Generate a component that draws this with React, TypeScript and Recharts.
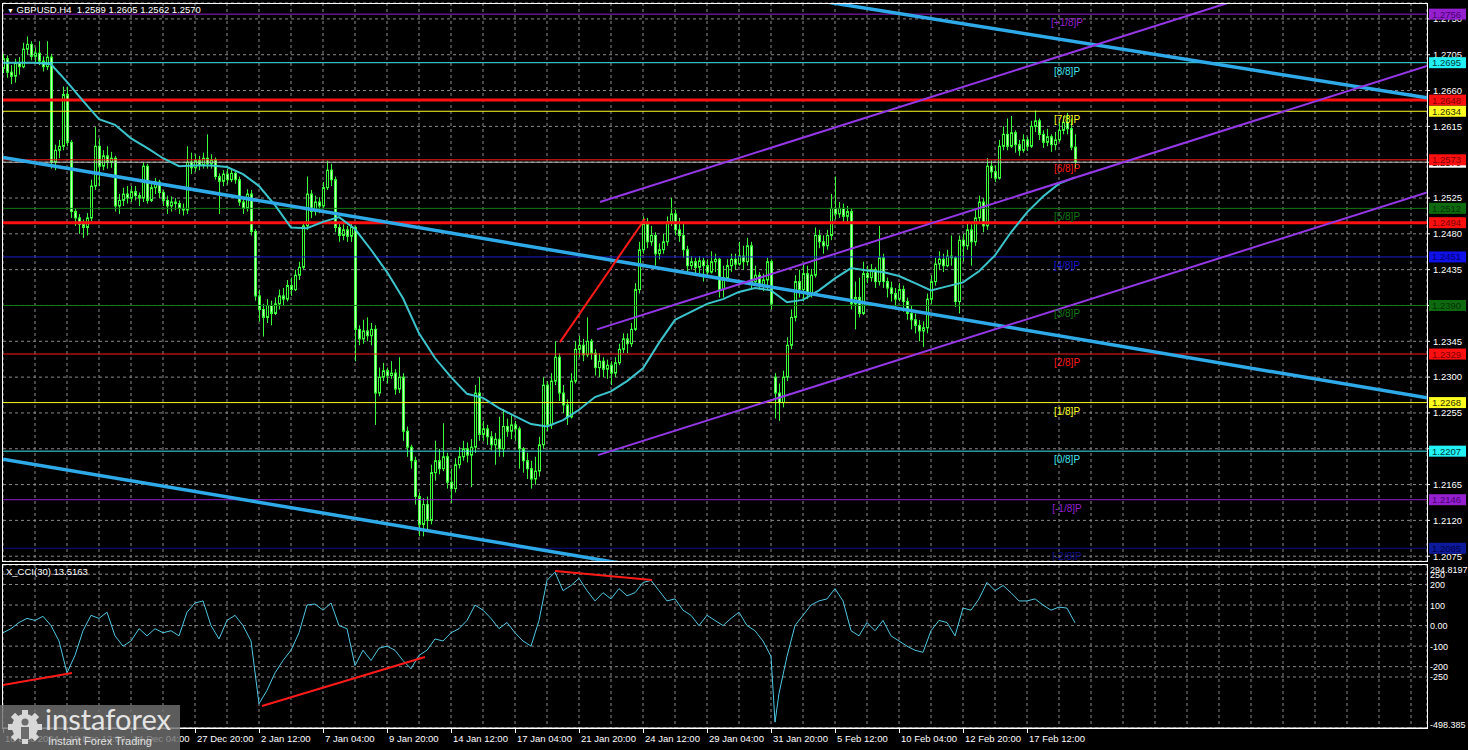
import React from 'react';
import {
  ComposedChart,
  LineChart,
  Bar,
  Line,
  XAxis,
  YAxis,
  CartesianGrid,
  ReferenceLine,
} from 'recharts';

const FONT = '"Liberation Sans", Arial, sans-serif';
const GRID = '#8a8a8a';
const CANDLE = '#3cff3c';
const BEAR_FILL = '#c4ffbc';

// GBPUSD H4, one entry per bar starting 16 Dec 2024 20:00
const FIRST_OPEN = 1.2688;
// weekend gap opens (bar index -> open)
const GAP_OPEN: Record<number, number> = { 193: 1.23 };

const CLOSE = [
  1.2700, 1.2683, 1.2678, 1.2695, 1.2690, 1.2712, 1.2718, 1.2703, 1.2707, 1.2697,
  1.2690, 1.2702, 1.2570, 1.2585, 1.2590, 1.2655, 1.2595, 1.2508, 1.2500, 1.2492,
  1.2488, 1.2500, 1.2540, 1.2590, 1.2565, 1.2578, 1.2570, 1.2575, 1.2515, 1.2522,
  1.2530, 1.2525, 1.2533, 1.2528, 1.2525, 1.2565, 1.2522, 1.2538, 1.2545, 1.2532,
  1.2522, 1.2515, 1.2520, 1.2518, 1.2512, 1.2510, 1.2570, 1.2563, 1.2572, 1.2566,
  1.2575, 1.2568, 1.2573, 1.2552, 1.2546, 1.2555, 1.2548, 1.2556, 1.2548, 1.2520,
  1.2512, 1.2530, 1.2483, 1.2402, 1.2385, 1.2375, 1.2390, 1.2380, 1.2392, 1.2402,
  1.2398, 1.2415, 1.2410, 1.2428, 1.2438, 1.2490, 1.2530, 1.2508, 1.2520, 1.2515,
  1.2538, 1.2560, 1.2548, 1.2488, 1.2478, 1.2485, 1.2477, 1.2488, 1.2360, 1.2348,
  1.2358, 1.2352, 1.2360, 1.2280, 1.2300, 1.2308, 1.2302, 1.2305, 1.2285, 1.2300,
  1.2232, 1.2212, 1.2195, 1.2150, 1.2115, 1.2140, 1.2120, 1.2180, 1.2195, 1.2185,
  1.2200, 1.2168, 1.2160, 1.2190, 1.2200, 1.2210, 1.2202, 1.2212, 1.2280, 1.2228,
  1.2235, 1.2225, 1.2215, 1.2222, 1.2210, 1.2238, 1.2232, 1.2240, 1.2235, 1.2210,
  1.2195, 1.2185, 1.2172, 1.2182, 1.2215, 1.2290, 1.2240, 1.2295, 1.2325, 1.2280,
  1.2265, 1.2250, 1.2295, 1.2335, 1.2340, 1.2328, 1.2345, 1.2330, 1.2312, 1.2320,
  1.2310, 1.2315, 1.2305, 1.2318, 1.2335, 1.2348, 1.2342, 1.2360, 1.2410, 1.2460,
  1.2492, 1.2470, 1.2478, 1.2455, 1.2460, 1.2470, 1.2495, 1.2505, 1.2485, 1.2478,
  1.2460, 1.2440, 1.2445, 1.2438, 1.2446, 1.2440, 1.2432, 1.2445, 1.2448, 1.2410,
  1.2425, 1.2440, 1.2448, 1.2442, 1.2452, 1.2445, 1.2465, 1.2420, 1.2428, 1.2415,
  1.2422, 1.2445, 1.2392, 1.2280, 1.2268, 1.2300, 1.2340, 1.2375, 1.2420, 1.2410,
  1.2430, 1.2405, 1.2428, 1.2478, 1.2470, 1.2465, 1.2478, 1.2512, 1.2505, 1.2512,
  1.2502, 1.2508, 1.2392, 1.2400, 1.2380, 1.2430, 1.2425, 1.2435, 1.2420, 1.2450,
  1.2420, 1.2412, 1.2405, 1.2398, 1.2410, 1.2395, 1.2380, 1.2372, 1.2365, 1.2358,
  1.2362, 1.2398, 1.2420, 1.2442, 1.2448, 1.2440, 1.2452, 1.2450, 1.2395, 1.2472,
  1.2465, 1.2485, 1.2470, 1.2500, 1.2520, 1.2490, 1.2565, 1.2558, 1.2550, 1.2590,
  1.2605, 1.2590, 1.2607, 1.2592, 1.2585, 1.2598, 1.2590, 1.2615, 1.2622, 1.2605,
  1.2595, 1.2602, 1.2592, 1.2598, 1.2610, 1.2620, 1.2612, 1.2589, 1.2570,
];

const HIGH = [
  1.2706, 1.2704, 1.2692, 1.2700, 1.2702, 1.2720, 1.2728, 1.2722, 1.2714, 1.2722,
  1.2703, 1.2722, 1.2706, 1.2592, 1.2598, 1.2665, 1.2665, 1.2598, 1.2512, 1.2505,
  1.2498, 1.2506, 1.2548, 1.2614, 1.2600, 1.2585, 1.2590, 1.2583, 1.2578, 1.2530,
  1.2538, 1.2540, 1.2540, 1.2540, 1.2532, 1.2570, 1.2568, 1.2545, 1.2550, 1.2548,
  1.2535, 1.2528, 1.2527, 1.2525, 1.2522, 1.2518, 1.2590, 1.2582, 1.2580, 1.2578,
  1.2582, 1.2605, 1.2580, 1.2576, 1.2556, 1.2560, 1.2562, 1.2562, 1.2560, 1.2552,
  1.2525, 1.2536, 1.2535, 1.2486, 1.2410, 1.2392, 1.2398, 1.2396, 1.2400, 1.2410,
  1.2412, 1.2422, 1.2425, 1.2435, 1.2445, 1.2495, 1.2552, 1.2535, 1.2528, 1.2526,
  1.2545, 1.2572, 1.2568, 1.2552, 1.2495, 1.2492, 1.2490, 1.2495, 1.2490, 1.2365,
  1.2372, 1.2375, 1.2368, 1.2365, 1.2312, 1.2318, 1.2312, 1.2320, 1.2310, 1.2325,
  1.2305, 1.2238, 1.2215, 1.2200, 1.2155, 1.2148, 1.2150, 1.2190, 1.2220, 1.2210,
  1.2242, 1.2205, 1.2185, 1.2198, 1.2212, 1.2220, 1.2218, 1.2222, 1.2290, 1.2300,
  1.2245, 1.2240, 1.2232, 1.2230, 1.2250, 1.2260, 1.2248, 1.2252, 1.2245, 1.2238,
  1.2212, 1.2205, 1.2195, 1.2200, 1.2225, 1.2300, 1.2295, 1.2305, 1.2345, 1.2330,
  1.2290, 1.2272, 1.2305, 1.2345, 1.2352, 1.2348, 1.2375, 1.2348, 1.2335, 1.2330,
  1.2325, 1.2322, 1.2320, 1.2325, 1.2342, 1.2355, 1.2355, 1.2368, 1.2418, 1.2470,
  1.2502, 1.2500, 1.2490, 1.2482, 1.2468, 1.2480, 1.2502, 1.2525, 1.2510, 1.2500,
  1.2495, 1.2465, 1.2452, 1.2450, 1.2452, 1.2450, 1.2448, 1.2458, 1.2455, 1.2450,
  1.2440, 1.2448, 1.2455, 1.2455, 1.2470, 1.2465, 1.2475, 1.2470, 1.2440, 1.2432,
  1.2430, 1.2450, 1.2448, 1.2305, 1.2292, 1.2308, 1.2350, 1.2385, 1.2428, 1.2435,
  1.2442, 1.2440, 1.2436, 1.2488, 1.2485, 1.2478, 1.2485, 1.2530, 1.2552, 1.2520,
  1.2518, 1.2515, 1.2512, 1.2420, 1.2425, 1.2445, 1.2440, 1.2442, 1.2438, 1.2490,
  1.2455, 1.2425, 1.2420, 1.2412, 1.2418, 1.2415, 1.2400, 1.2390, 1.2380, 1.2372,
  1.2370, 1.2405, 1.2428, 1.2450, 1.2458, 1.2455, 1.2460, 1.2478, 1.2452, 1.2478,
  1.2480, 1.2495, 1.2492, 1.2510, 1.2528, 1.2525, 1.2575, 1.2572, 1.2566, 1.2598,
  1.2615, 1.2625, 1.2628, 1.2610, 1.2598, 1.2605, 1.2602, 1.2622, 1.2635, 1.2625,
  1.2610, 1.2612, 1.2605, 1.2608, 1.2620, 1.2628, 1.2632, 1.2625, 1.2605,
];

const LOW = [
  1.2682, 1.2676, 1.2668, 1.2670, 1.2680, 1.2688, 1.2705, 1.2698, 1.2696, 1.2692,
  1.2684, 1.2686, 1.2562, 1.2560, 1.2575, 1.2585, 1.2590, 1.2500, 1.2490, 1.2480,
  1.2475, 1.2478, 1.2496, 1.2535, 1.2540, 1.2560, 1.2562, 1.2563, 1.2508, 1.2505,
  1.2515, 1.2518, 1.2520, 1.2522, 1.2515, 1.2520, 1.2518, 1.2520, 1.2530, 1.2525,
  1.2515, 1.2505, 1.2508, 1.2510, 1.2505, 1.2503, 1.2505, 1.2555, 1.2558, 1.2560,
  1.2562, 1.2562, 1.2562, 1.2548, 1.2505, 1.2540, 1.2542, 1.2545, 1.2543, 1.2515,
  1.2505, 1.2508, 1.2478, 1.2396, 1.2370, 1.2351, 1.2368, 1.2365, 1.2378, 1.2385,
  1.2390, 1.2395, 1.2402, 1.2408, 1.2422, 1.2435, 1.2485, 1.2500, 1.2503, 1.2506,
  1.2512, 1.2535, 1.2540, 1.2482, 1.2470, 1.2472, 1.2470, 1.2470, 1.2320, 1.2340,
  1.2342, 1.2345, 1.2340, 1.2240, 1.2276, 1.2295, 1.2292, 1.2298, 1.2278, 1.2280,
  1.2220, 1.2200, 1.2185, 1.2140, 1.2100, 1.2100, 1.2108, 1.2115, 1.2170, 1.2178,
  1.2182, 1.2160, 1.2142, 1.2155, 1.2185, 1.2195, 1.2193, 1.2162, 1.2205, 1.2220,
  1.2220, 1.2215, 1.2208, 1.2190, 1.2200, 1.2200, 1.2225, 1.2222, 1.2220, 1.2185,
  1.2180, 1.2172, 1.2160, 1.2165, 1.2175, 1.2210, 1.2232, 1.2235, 1.2290, 1.2270,
  1.2255, 1.2240, 1.2248, 1.2292, 1.2325, 1.2320, 1.2325, 1.2322, 1.2302, 1.2300,
  1.2300, 1.2298, 1.2290, 1.2300, 1.2315, 1.2330, 1.2330, 1.2338, 1.2358, 1.2405,
  1.2455, 1.2462, 1.2465, 1.2440, 1.2448, 1.2455, 1.2465, 1.2490, 1.2478, 1.2470,
  1.2450, 1.2432, 1.2435, 1.2428, 1.2430, 1.2420, 1.2425, 1.2430, 1.2432, 1.2400,
  1.2400, 1.2420, 1.2432, 1.2435, 1.2440, 1.2435, 1.2440, 1.2410, 1.2415, 1.2410,
  1.2408, 1.2410, 1.2385, 1.2248, 1.2245, 1.2262, 1.2295, 1.2335, 1.2370, 1.2400,
  1.2395, 1.2398, 1.2400, 1.2425, 1.2462, 1.2455, 1.2460, 1.2472, 1.2498, 1.2500,
  1.2495, 1.2495, 1.2385, 1.2360, 1.2375, 1.2378, 1.2418, 1.2420, 1.2412, 1.2415,
  1.2412, 1.2400, 1.2395, 1.2385, 1.2395, 1.2382, 1.2372, 1.2360, 1.2355, 1.2345,
  1.2338, 1.2355, 1.2392, 1.2415, 1.2435, 1.2432, 1.2438, 1.2440, 1.2388, 1.2380,
  1.2445, 1.2460, 1.2440, 1.2465, 1.2495, 1.2482, 1.2485, 1.2550, 1.2545, 1.2548,
  1.2585, 1.2585, 1.2588, 1.2582, 1.2578, 1.2582, 1.2584, 1.2588, 1.2608, 1.2598,
  1.2588, 1.2590, 1.2583, 1.2585, 1.2595, 1.2605, 1.2605, 1.2585, 1.2562,
];

// moving average: [bar, price]
const MA_POINTS: [number, number][] = [
  [0, 1.2695], [4, 1.2695], [8, 1.2695], [12, 1.2693], [16, 1.2671], [20, 1.2647],
  [24, 1.2624], [28, 1.2617], [32, 1.2600], [36, 1.2588], [40, 1.2575], [44, 1.2565],
  [48, 1.2566], [52, 1.2566], [56, 1.2564], [60, 1.2555], [64, 1.2540], [68, 1.2516],
  [72, 1.2488], [76, 1.2487], [80, 1.2495], [84, 1.2501], [88, 1.2486], [92, 1.2460],
  [96, 1.2432], [100, 1.2399], [104, 1.2355], [108, 1.2324], [112, 1.2300], [116, 1.2279],
  [120, 1.2274], [124, 1.2261], [128, 1.2251], [132, 1.2241], [136, 1.2238], [140, 1.2246],
  [144, 1.2259], [148, 1.2275], [152, 1.2282], [156, 1.2295], [160, 1.2311], [164, 1.2343],
  [168, 1.2372], [172, 1.2382], [176, 1.2392], [180, 1.2398], [184, 1.2407], [188, 1.2412],
  [192, 1.2409], [196, 1.2394], [200, 1.2397], [204, 1.2409], [208, 1.2424], [212, 1.2437],
  [216, 1.2434], [220, 1.2432], [224, 1.2427], [228, 1.2418], [232, 1.2409], [236, 1.2414],
  [240, 1.2419], [244, 1.2433], [248, 1.2453], [252, 1.2482], [256, 1.2507], [260, 1.2527],
  [264, 1.2543], [268, 1.2551],
];

// CCI(30): [bar, value]
const CCI_POINTS: [number, number][] = [
  [0, -35], [2, -15], [4, 15], [6, 35], [8, 25], [10, 45], [12, 0], [14, -75], [16, -230],
  [18, -145], [20, -25], [22, 50], [24, 35], [26, 65], [28, -50], [30, -100], [32, -75],
  [34, -15], [36, -50], [38, -15], [40, -35], [42, -25], [44, -50], [46, 65], [48, 110],
  [50, 120], [52, 0], [54, -65], [56, 25], [58, 50], [60, 0], [62, -75], [64, -380],
  [66, -315], [68, -230], [70, -170], [72, -120], [74, -35], [76, 100], [78, 105], [80, 75],
  [82, 110], [84, 0], [86, -15], [88, -195], [90, -120], [92, -170], [94, -110], [96, -100],
  [98, -120], [100, -170], [102, -210], [104, -145], [106, -120], [108, -65], [110, -75],
  [112, -35], [114, -15], [116, 25], [118, 100], [120, 75], [122, 35], [124, -15], [126, 15],
  [128, -35], [130, -75], [132, -100], [134, 25], [136, 220], [138, 260], [140, 170],
  [142, 195], [144, 230], [146, 170], [148, 120], [150, 160], [152, 130], [154, 180],
  [156, 145], [158, 160], [160, 210], [162, 220], [164, 170], [166, 120], [168, 130],
  [170, 75], [172, 50], [174, 0], [176, 50], [178, 25], [180, 0], [182, 35], [184, 65],
  [186, 0], [188, -25], [190, -75], [192, -150], [193, -470], [194, -330], [196, -150],
  [198, 0], [200, 50], [202, 100], [204, 120], [206, 130], [208, 180], [210, 120], [212, -25],
  [214, -50], [216, 15], [218, -25], [220, 25], [222, -50], [224, -75], [226, -100],
  [228, -120], [230, -130], [232, -25], [234, 25], [236, 15], [238, -50], [240, 85], [242, 75],
  [244, 130], [246, 210], [248, 170], [250, 195], [252, 160], [254, 120], [256, 120],
  [258, 130], [260, 100], [262, 75], [264, 90], [266, 85], [268, 13.5163],
];

const TIME_LABELS = [
  '16 Dec 2024', '19 Dec 12:00', '24 Dec 04:00', '27 Dec 20:00', '2 Jan 12:00',
  '7 Jan 04:00', '9 Jan 20:00', '14 Jan 12:00', '17 Jan 04:00', '21 Jan 20:00',
  '24 Jan 12:00', '29 Jan 04:00', '31 Jan 20:00', '5 Feb 12:00', '10 Feb 04:00',
  '12 Feb 20:00', '17 Feb 12:00',
];
const LABEL_EVERY = 16;

const PRICE_TICKS = [
  1.2075, 1.212, 1.2165, 1.221, 1.2255, 1.23, 1.2345, 1.239, 1.2435, 1.248, 1.2525,
  1.257, 1.2615, 1.266, 1.2705, 1.275,
];
const CCI_TICKS = [294.8197, 250, 200, 100, 0, -100, -200, -250, -498.385];

// Murrey math levels
const LEVEL_PRICES = [
  1.2756, 1.2695, 1.2648, 1.2634, 1.2573, 1.2512, 1.2494, 1.2451, 1.239, 1.2329, 1.2268,
  1.2207, 1.2146, 1.2085,
];
const LEVEL_NAMES = [
  '[+1/8]P', '[8/8]P', '', '[7/8]P', '[6/8]P', '[5/8]P', '', '[4/8]P', '[3/8]P', '[2/8]P',
  '[1/8]P', '[0/8]P', '[-1/8]P', '[-2/8]P',
];
const LEVEL_STYLE = [
  { c: '#9420d0', w: 1, tag: '#9420d0', txt: '#4a0070' },
  { c: '#3fe6ee', w: 1, tag: '#22f2f6', txt: '#003a3a' },
  { c: '#ff1010', w: 3, tag: '#ff1010', txt: '#7a0000' },
  { c: '#ffff20', w: 1, tag: '#ffff20', txt: '#303000' },
  { c: '#ff1a1a', w: 1, tag: '#ff1010', txt: '#7a0000' },
  { c: '#137a13', w: 1, tag: '#0e6a0e', txt: '#053005' },
  { c: '#ff1010', w: 3, tag: '#ff1010', txt: '#7a0000' },
  { c: '#1a1ad0', w: 1, tag: '#1010e8', txt: '#000070' },
  { c: '#137a13', w: 1, tag: '#0e6a0e', txt: '#053005' },
  { c: '#ff1a1a', w: 1, tag: '#ff1010', txt: '#7a0000' },
  { c: '#ffff20', w: 1, tag: '#ffff20', txt: '#303000' },
  { c: '#3fe6ee', w: 1, tag: '#22f2f6', txt: '#003a3a' },
  { c: '#9420d0', w: 1, tag: '#9420d0', txt: '#4a0070' },
  { c: '#10108a', w: 1, tag: '#0c1a9a', txt: '#000048' },
];
const NAME_BAR = 266;
const BID = 1.257;

// drawn trend lines: [bar1, price1, bar2, price2]
const BLUE_LINES = [
  [0, 1.2576, 356, 1.2274],
  [0, 1.2197, 170, 1.2053],
  [200, 1.2776, 356, 1.2651],
];
const PURPLE_LINES = [
  [149.25, 1.252, 320, 1.2792],
  [148.5, 1.236, 356, 1.2691],
  [148.75, 1.2202, 356, 1.2532],
];
const RED_PRICE_LINES = [[139.25, 1.2344, 160.5, 1.2499]];
const RED_CCI_LINES = [
  [0, -289, 17.25, -231],
  [64.75, -391, 105.5, -153],
  [138, 266, 162.25, 222],
];

const X_DOMAIN: [number, number] = [0, 356];
const PRICE_DOMAIN: [number, number] = [1.2069, 1.277];
const GRID_BARS = Array.from({ length: 45 }, (_, k) => k * 8);

const candles = CLOSE.map((close, i) => {
  const open = i === 0 ? FIRST_OPEN : GAP_OPEN[i] ?? CLOSE[i - 1];
  return { bar: i, open, close, high: HIGH[i], low: LOW[i], range: [LOW[i], HIGH[i]] };
});
const maData = MA_POINTS.map(([bar, ma]) => ({ bar, ma }));
const cciData = CCI_POINTS.map(([bar, cci]) => ({ bar, cci }));

const Candle = (props: any) => {
  const { x, y, width, height, payload } = props;
  if (!payload || x == null || y == null) return null;
  const { open, close, high, low } = payload;
  const top = Math.min(y, y + height);
  const h = Math.abs(height);
  const cx = Math.round(x + width / 2);
  const span = high - low || 1e-9;
  const py = (p: number) => top + ((high - p) / span) * h;
  const bTop = py(Math.max(open, close));
  const bBot = py(Math.min(open, close));
  const bull = close >= open;
  return (
    <g>
      <line x1={cx + 0.5} x2={cx + 0.5} y1={top} y2={top + h} stroke={CANDLE} strokeWidth={1} />
      <rect
        x={cx - 0.5}
        y={bTop}
        width={2}
        height={Math.max(bBot - bTop, 0.5)}
        fill={bull ? '#000' : BEAR_FILL}
        stroke={CANDLE}
        strokeWidth={1}
      />
    </g>
  );
};

const levelLabel = (i: number) => (props: any) => {
  const vb = props.viewBox;
  if (!vb) return null;
  const st = LEVEL_STYLE[i];
  const right = vb.x + vb.width;
  const nameX = vb.x + (vb.width * (NAME_BAR - X_DOMAIN[0])) / (X_DOMAIN[1] - X_DOMAIN[0]);
  return (
    <g>
      {LEVEL_NAMES[i] && (
        <text x={nameX} y={vb.y + 12} fill={st.c} fontSize={10} fontFamily={FONT} textAnchor="middle">
          {LEVEL_NAMES[i]}
        </text>
      )}
      <rect x={right + 2} y={vb.y - 5.5} width={37} height={11} fill={st.tag} />
      <text x={right + 5} y={vb.y + 3.5} fill={st.txt} fontSize={9.5} fontFamily={FONT}>
        {LEVEL_PRICES[i].toFixed(4)}
      </text>
    </g>
  );
};

const bidLabel = (props: any) => {
  const vb = props.viewBox;
  if (!vb) return null;
  const right = vb.x + vb.width;
  return (
    <g>
      <rect x={right + 2} y={vb.y - 5.5} width={37} height={11} fill="#ffffff" />
      <text x={right + 5} y={vb.y + 3.5} fill="#000" fontSize={9.5} fontFamily={FONT}>
        {BID.toFixed(4)}
      </text>
    </g>
  );
};

const TimeTick = (props: any) => {
  const { x, y, payload } = props;
  const v = payload.value;
  if (v % LABEL_EVERY !== 0) return null;
  const label = TIME_LABELS[v / LABEL_EVERY];
  if (!label) return null;
  return (
    <g>
      <line x1={x + 0.5} x2={x + 0.5} y1={y} y2={y + 5} stroke="#fff" />
      <text x={x + 2} y={y + 14} fill="#fff" fontSize={9.5} fontFamily={FONT}>
        {label}
      </text>
    </g>
  );
};

const cciFormat = (v: number) => (v === 0 ? '0.00' : String(v));

const CciTick = (props: any) => {
  const { x, y, payload } = props;
  const v = payload.value;
  const dy = v === CCI_TICKS[0] ? 4 : v === CCI_TICKS[CCI_TICKS.length - 1] ? -4 : 0;
  return (
    <text x={x} y={y + dy + 3.5} fill="#fff" fontSize={9} fontFamily={FONT}>
      {cciFormat(v)}
    </text>
  );
};

const Gear = () => (
  <svg width={38} height={38} viewBox="0 0 38 38">
    <g fill="#d8d8d8">
      {[0, 45, 90, 135, 180, 225, 270, 315].map((a) => (
        <rect key={a} x={16} y={2} width={6} height={8} transform={`rotate(${a} 19 19)`} />
      ))}
      <circle cx={19} cy={19} r={13} />
    </g>
    <circle cx={19} cy={14} r={3.5} fill="#6c6c6c" />
    <rect x={15} y={19} width={8} height={12} fill="#6c6c6c" />
  </svg>
);

const MARGIN = { top: 3, right: 0, bottom: 1, left: 3 };

export default function App() {
  return (
    <div
      style={{
        position: 'fixed',
        left: 0,
        top: 0,
        width: 1468,
        height: 750,
        background: '#000',
        overflow: 'hidden',
        fontFamily: FONT,
      }}
    >
      <div style={{ position: 'absolute', left: 0, top: 0 }}>
        <ComposedChart width={1468} height={562} data={candles} margin={MARGIN}>
          <CartesianGrid stroke={GRID} strokeDasharray="3 3" />
          <XAxis dataKey="bar" type="number" domain={X_DOMAIN} ticks={GRID_BARS} hide allowDataOverflow />
          <YAxis
            orientation="right"
            width={41}
            domain={PRICE_DOMAIN}
            ticks={PRICE_TICKS}
            allowDataOverflow
            axisLine={false}
            tickSize={3}
            tickMargin={3}
            tickLine={{ stroke: '#fff' }}
            tick={{ fill: '#fff', fontSize: 9.5, fontFamily: FONT }}
            tickFormatter={(v: number) => v.toFixed(4)}
            interval={0}
          />
          <ReferenceLine y={BID} stroke="#bdbdbd" strokeWidth={1} />
          {LEVEL_PRICES.map((p, i) => (
            <ReferenceLine key={p} y={p} stroke={LEVEL_STYLE[i].c} strokeWidth={LEVEL_STYLE[i].w} />
          ))}
          <Bar dataKey="range" barSize={3} isAnimationActive={false} shape={(p: any) => <Candle {...p} />} />
          <Line
            data={maData}
            dataKey="ma"
            type="linear"
            stroke="#3cc4cc"
            strokeWidth={2}
            dot={false}
            isAnimationActive={false}
          />
          {BLUE_LINES.map((s, i) => (
            <ReferenceLine
              key={`b${i}`}
              segment={[{ x: s[0], y: s[1] }, { x: s[2], y: s[3] }]}
              stroke="#2eaae8"
              strokeWidth={3.5}
              ifOverflow="hidden"
            />
          ))}
          {PURPLE_LINES.map((s, i) => (
            <ReferenceLine
              key={`p${i}`}
              segment={[{ x: s[0], y: s[1] }, { x: s[2], y: s[3] }]}
              stroke="#9438e6"
              strokeWidth={2}
              ifOverflow="hidden"
            />
          ))}
          {RED_PRICE_LINES.map((s, i) => (
            <ReferenceLine
              key={`r${i}`}
              segment={[{ x: s[0], y: s[1] }, { x: s[2], y: s[3] }]}
              stroke="#ff1a1a"
              strokeWidth={2}
              ifOverflow="hidden"
            />
          ))}
        </ComposedChart>
      </div>

      {/* price tags and level names drawn above the axis labels */}
      <div style={{ position: 'absolute', left: 0, top: 0, pointerEvents: 'none' }}>
        <ComposedChart width={1468} height={562} data={candles} margin={MARGIN}>
          <XAxis dataKey="bar" type="number" domain={X_DOMAIN} hide allowDataOverflow />
          <YAxis
            orientation="right"
            width={41}
            domain={PRICE_DOMAIN}
            allowDataOverflow
            axisLine={false}
            tickLine={false}
            tick={false}
          />
          <ReferenceLine y={BID} stroke="none" strokeOpacity={0} label={bidLabel} />
          {LEVEL_PRICES.map((p, i) => (
            <ReferenceLine key={p} y={p} stroke="none" strokeOpacity={0} label={levelLabel(i)} />
          ))}
        </ComposedChart>
      </div>

      <div style={{ position: 'absolute', left: 0, top: 563 }}>
        <LineChart width={1468} height={187} data={cciData} margin={{ top: 2, right: 0, bottom: 0, left: 3 }}>
          <CartesianGrid stroke={GRID} strokeDasharray="3 3" />
          <XAxis
            dataKey="bar"
            type="number"
            domain={X_DOMAIN}
            ticks={GRID_BARS}
            interval={0}
            height={22}
            tickSize={0}
            tickMargin={0}
            tickLine={false}
            axisLine={{ stroke: '#fff' }}
            tick={<TimeTick />}
            allowDataOverflow
          />
          <YAxis
            orientation="right"
            width={41}
            domain={[-498.385, 294.8197]}
            ticks={CCI_TICKS}
            interval={0}
            allowDataOverflow
            axisLine={false}
            tickLine={false}
            tickSize={0}
            tickMargin={3}
            tick={<CciTick />}
          />
          <Line
            dataKey="cci"
            type="linear"
            stroke="#4fc8e2"
            strokeWidth={1}
            dot={false}
            isAnimationActive={false}
          />
          {RED_CCI_LINES.map((s, i) => (
            <ReferenceLine
              key={`c${i}`}
              segment={[{ x: s[0], y: s[1] }, { x: s[2], y: s[3] }]}
              stroke="#ff1a1a"
              strokeWidth={2}
              ifOverflow="hidden"
            />
          ))}
        </LineChart>
      </div>

      {/* panel borders */}
      <div
        style={{
          position: 'absolute',
          left: 2,
          top: 3,
          width: 1426,
          height: 559,
          border: '1px solid #fff',
          boxSizing: 'border-box',
          pointerEvents: 'none',
        }}
      />
      <div
        style={{
          position: 'absolute',
          left: 2,
          top: 564,
          width: 1426,
          height: 165,
          border: '1px solid #fff',
          boxSizing: 'border-box',
          pointerEvents: 'none',
        }}
      />

      <div style={{ position: 'absolute', left: 7, top: 4, color: '#fff', fontSize: 9.5, whiteSpace: 'pre' }}>
        <span style={{ fontSize: 7 }}>▼</span> GBPUSD.H4  1.2589 1.2605 1.2562 1.2570
      </div>
      <div style={{ position: 'absolute', left: 6, top: 566, color: '#fff', fontSize: 9.5, whiteSpace: 'pre' }}>
        X_CCI(30) 13.5163
      </div>

      <div
        style={{
          position: 'absolute',
          left: 0,
          top: 705,
          width: 180,
          height: 45,
          background: 'rgba(112,112,112,0.82)',
        }}
      >
        <div style={{ position: 'absolute', left: 6, top: 3 }}>
          <Gear />
        </div>
        <div
          style={{
            position: 'absolute',
            left: 45,
            top: -4,
            fontFamily: 'Lato, "Open Sans", sans-serif',
            fontSize: 29,
            color: '#e4e4e4',
          }}
        >
          instaforex
        </div>
        <div style={{ position: 'absolute', left: 48, top: 30, fontSize: 11, color: '#e0e0e0', whiteSpace: 'pre' }}>
          Instant Forex Trading
        </div>
      </div>
    </div>
  );
}
